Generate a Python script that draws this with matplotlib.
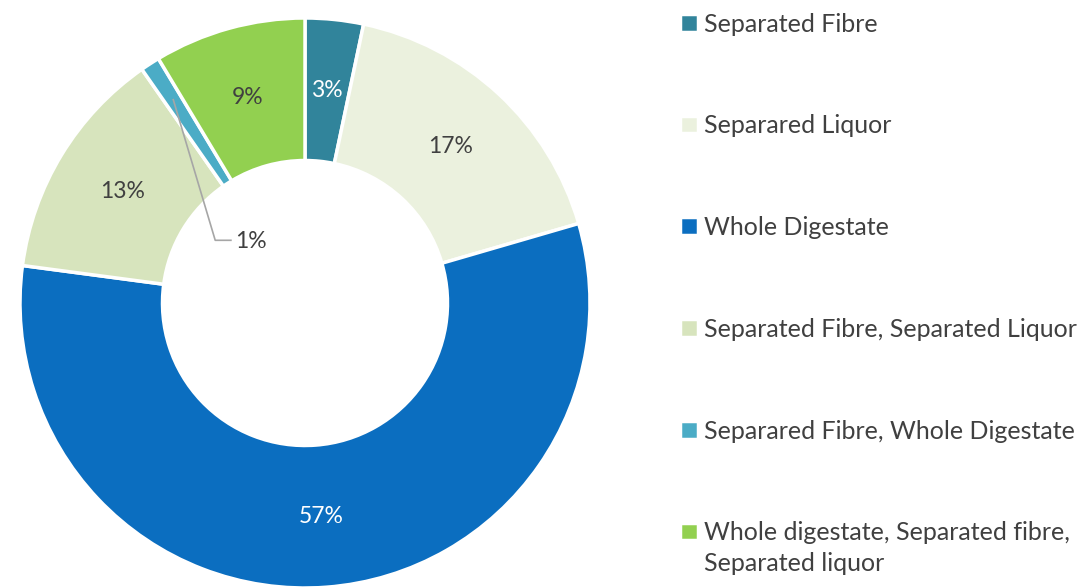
import numpy as np
import matplotlib.pyplot as plt

plt.rcParams['font.family'] = ['Lato', 'DejaVu Sans']

labels = ['Separated Fibre', 'Separared Liquor', 'Whole Digestate',
          'Separated Fibre, Separated Liquor', 'Separared Fibre, Whole Digestate',
          'Whole digestate, Separated fibre,']
label_tail = 'Separated liquor'   # second line of the last legend entry
values = [3.3, 17.2, 56.6, 13.2, 1.1, 8.6]
colors = ['#31849B', '#EBF1DE', '#0B6EC0', '#D7E4BD', '#4BACC6', '#92D050']
txt_colors = ['white', '#404040', 'white', '#404040', '#404040', '#404040']

fig = plt.figure(figsize=(10.85, 5.87), dpi=100)
ax = fig.add_axes([20 / 1085, -1 / 587, 570 / 1085, 570 / 587])

wedges, _ = ax.pie(values, colors=colors, startangle=90, counterclock=False,
                   radius=1.0, wedgeprops=dict(width=0.5, edgecolor='white', linewidth=2.5))
ax.set_xlim(-1, 1)
ax.set_ylim(-1, 1)
ax.set_aspect('equal')

# percentage labels
total = sum(values)
for w, v, c in zip(wedges, values, txt_colors):
    ang = np.deg2rad((w.theta1 + w.theta2) / 2)
    s = '%.0f%%' % (v / total * 100)
    if v < 2:
        # small slice: leader line to a label inside the hole
        x0, y0 = 0.85 * np.cos(ang), 0.85 * np.sin(ang)
        ax.plot([x0, -0.315, -0.26], [y0, 0.22, 0.22], color='#A6A6A6', lw=1.2)
        ax.text(-0.245, 0.215, s, ha='left', va='center', fontsize=16.5, color='#404040')
    else:
        r = 0.75
        ax.text(r * np.cos(ang), r * np.sin(ang), s, ha='center', va='center',
                fontsize=16.5, color=c)

leg = fig.legend(wedges, labels, loc='upper left', bbox_to_anchor=(657 / 1085, 1.017),
                 frameon=False, fontsize=18, handlelength=0.72, handleheight=0.72,
                 handletextpad=0.25, labelspacing=3.15, labelcolor='#404040')

# second line of the last entry, placed under its first line
fig.canvas.draw()
bb = leg.get_texts()[-1].get_window_extent().transformed(fig.transFigure.inverted())
fig.text(bb.x0, bb.y0 - 0.014, label_tail, ha='left', va='top', fontsize=18, color='#404040')

fig.savefig('out.png', dpi=100)
